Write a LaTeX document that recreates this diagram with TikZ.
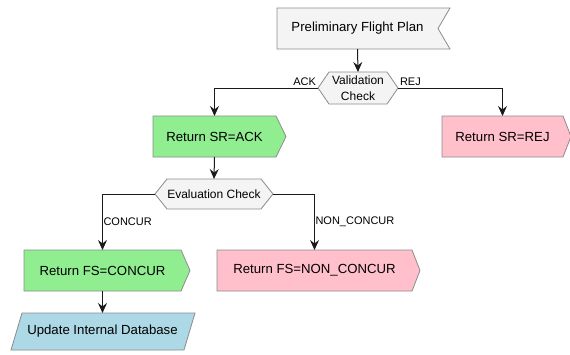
\documentclass[tikz,border=0pt]{standalone}
\usepackage{fontspec}
\setmainfont{Liberation Sans}
\usetikzlibrary{arrows.meta,calc,backgrounds}

\definecolor{edgegray}{HTML}{8C8C8C}
\definecolor{startfill}{HTML}{F4F4F4}
\definecolor{okfill}{HTML}{90EE90}
\definecolor{badfill}{HTML}{FFC0CB}
\definecolor{dbfill}{HTML}{ADD8E6}
\definecolor{linecol}{HTML}{1A1A1A}

\tikzset{
  x=1pt, y=-1pt,
  box/.style={inner sep=0pt, outer sep=0pt, minimum height=41pt,
              font=\fontsize{13.2}{15}\selectfont, text=black},
  check/.style={inner sep=0pt, outer sep=0pt,
                font=\fontsize{12}{16}\selectfont, align=center},
  outline/.style={draw=edgegray, line width=0.8pt},
  arr/.style={draw=linecol, line width=1pt,
              -{Stealth[length=10pt, width=9pt, inset=3.5pt]}},
  lbl/.style={font=\fontsize{11}{13}\selectfont, inner sep=1.5pt, text=black}
}

\begin{document}
\begin{tikzpicture}
\useasboundingbox (0,0) rectangle (570,354);

% step nodes (text only; outlines are drawn on the background layer)
\node[box, minimum width=161pt] (pfp) at (357.5,28.5) {Preliminary Flight Plan};
\node[check, minimum width=80pt, minimum height=32pt] (vc) at (358,88) {Validation\\Check};
\node[box, minimum width=123pt] (sra) at (214.5,136.5) {Return SR=ACK};
\node[box, minimum width=121pt] (srr) at (502.5,136.5) {Return SR=REJ};
\node[check, minimum width=118pt, minimum height=30pt] (ec) at (214,194) {Evaluation Check};
\node[box, minimum width=157pt] (fsc) at (102.5,270.5) {Return FS=CONCUR};
\node[box, minimum width=195pt] (fsn) at (314.5,270.5) {Return FS=NON\_CONCUR};
\node[box, minimum width=173pt, minimum height=37pt] (db) at (102.5,331.5) {Update Internal Database};

\begin{scope}[on background layer]
  \fill[white] (0,0) rectangle (570,354);
  % start: notched flag
  \path[outline, fill=startfill]
    (pfp.north west) -- ($(pfp.north east)+(12,0)$) -- (pfp.east)
    -- ($(pfp.south east)+(12,0)$) -- (pfp.south west) -- cycle;
  % decisions: hexagons
  \path[outline, fill=startfill]
    (vc.west) -- ($(vc.north west)+(11,0)$) -- ($(vc.north east)+(-11,0)$)
    -- (vc.east) -- ($(vc.south east)+(-11,0)$) -- ($(vc.south west)+(11,0)$) -- cycle;
  \path[outline, fill=startfill]
    (ec.west) -- ($(ec.north west)+(12,0)$) -- ($(ec.north east)+(-12,0)$)
    -- (ec.east) -- ($(ec.south east)+(-12,0)$) -- ($(ec.south west)+(12,0)$) -- cycle;
  % results: arrow-shaped boxes
  \path[outline, fill=okfill]
    (sra.north west) -- (sra.north east) -- ($(sra.east)+(10,0)$)
    -- (sra.south east) -- (sra.south west) -- cycle;
  \path[outline, fill=badfill]
    (srr.north west) -- (srr.north east) -- ($(srr.east)+(8,0)$)
    -- (srr.south east) -- (srr.south west) -- cycle;
  \path[outline, fill=okfill]
    (fsc.north west) -- (fsc.north east) -- ($(fsc.east)+(9,0)$)
    -- (fsc.south east) -- (fsc.south west) -- cycle;
  \path[outline, fill=badfill]
    (fsn.north west) -- (fsn.north east) -- ($(fsn.east)+(8,0)$)
    -- (fsn.south east) -- (fsn.south west) -- cycle;
  % data: parallelogram
  \path[outline, fill=dbfill]
    ($(db.north west)+(6,0)$) -- ($(db.north east)+(6,0)$)
    -- ($(db.south east)+(-5,0)$) -- ($(db.south west)+(-5,0)$) -- cycle;
\end{scope}

% connectors
\draw[arr] (pfp.south) -- (vc.north);
\draw[arr] (vc.west) -| node[lbl, pos=0, anchor=south east] {ACK} (sra.north);
\draw[arr] (vc.east) -| node[lbl, pos=0, anchor=south west] {REJ} (srr.north);
\draw[arr] (sra.south) -- (ec.north);
\draw[arr] (ec.west) -| node[lbl, pos=0.75, anchor=west, inner sep=0.5pt] {CONCUR} (fsc.north);
\draw[arr] (ec.east) -| node[lbl, pos=0.75, anchor=west, inner sep=0.5pt] {NON\_CONCUR} (fsn.north);
\draw[arr] (fsc.south) -- (db.north);
\end{tikzpicture}
\end{document}
